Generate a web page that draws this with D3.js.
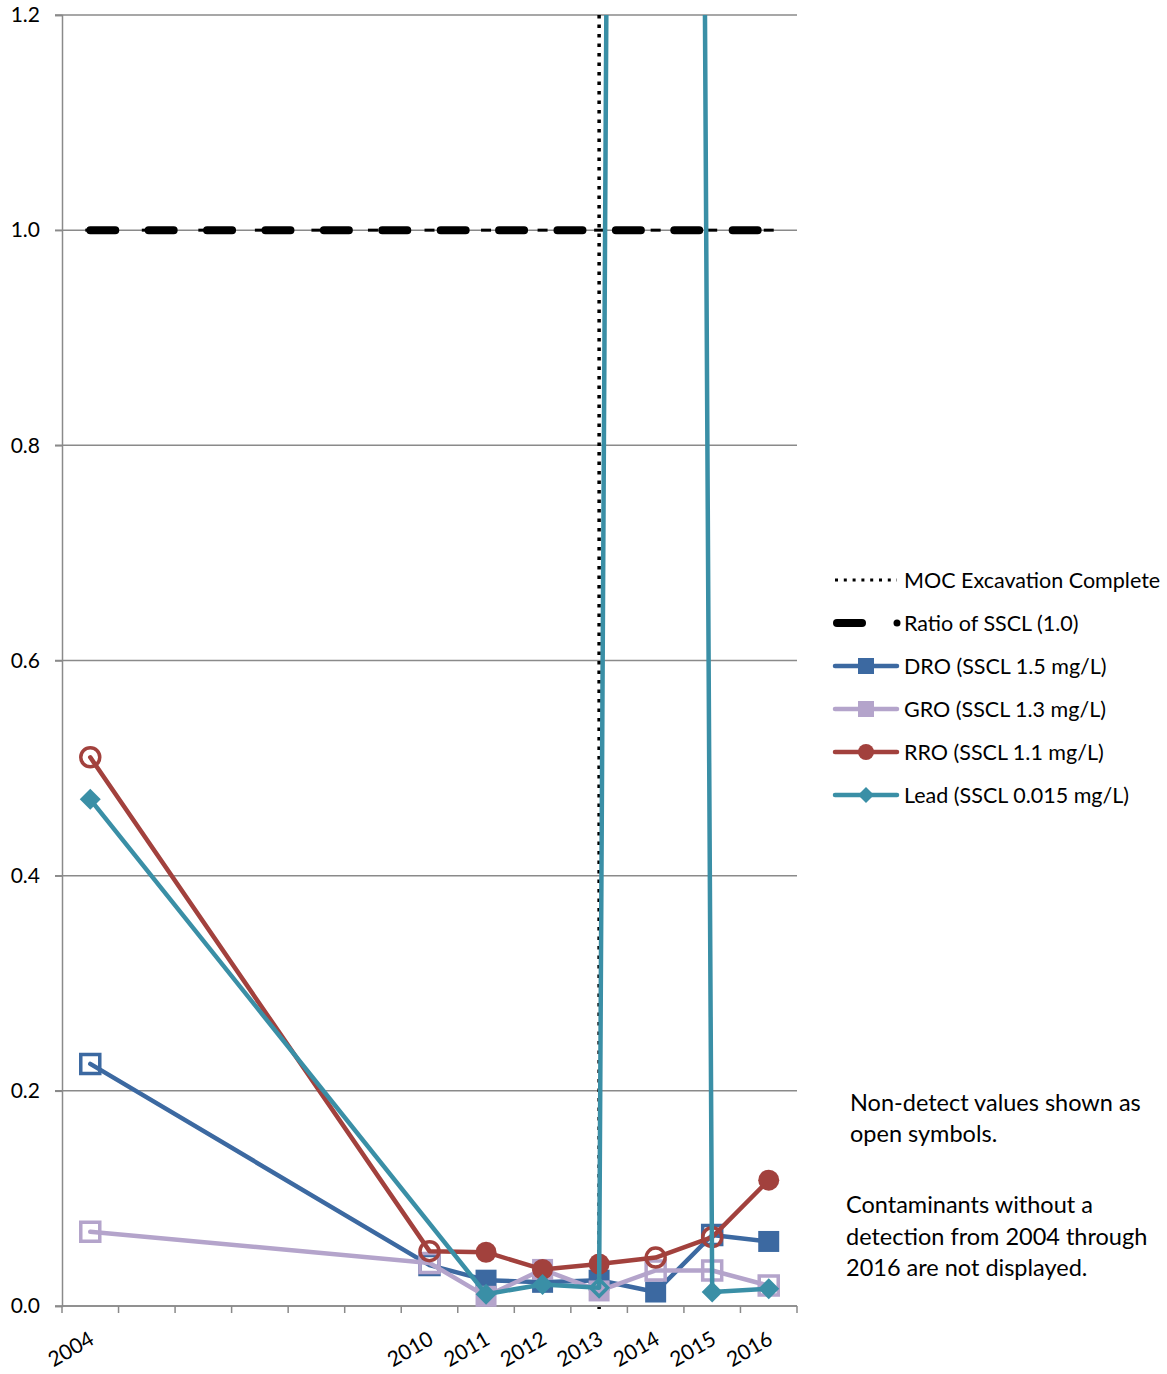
<!DOCTYPE html>
<html>
<head>
<meta charset="utf-8">
<script src="https://cdn.jsdelivr.net/npm/d3@7"></script>
<style>
  html, body { margin: 0; padding: 0; background: #fff; }
  svg { display: block; font-family: Lato, "Open Sans", sans-serif; }
</style>
</head>
<body>
<svg id="chart" width="1167" height="1374"></svg>
<script>
// Sampling years (category axis); only years with samples get a label
const years = [2004, 2005, 2006, 2007, 2008, 2009, 2010, 2011, 2012, 2013, 2014, 2015, 2016];
const labelledYears = [2004, 2010, 2011, 2012, 2013, 2014, 2015, 2016];
const yTicks = [0, 0.2, 0.4, 0.6, 0.8, 1.0, 1.2];

// Concentration / SSCL ratios (null = not sampled)
const droValues  = [0.225, null, null, null, null, null, 0.038, 0.024, 0.022, 0.024, 0.013, 0.066, 0.060];
const groValues  = [0.069, null, null, null, null, null, 0.040, 0.009, 0.034, 0.014, 0.033, 0.033, 0.019];
const rroValues  = [0.510, null, null, null, null, null, 0.051, 0.050, 0.034, 0.039, 0.045, 0.064, 0.117];
const leadValues = [0.471, null, null, null, null, null, null, 0.011, 0.020, 0.017, 9.3, 0.013, 0.016];

// Non-detect flags (1 = non-detect, drawn as an open symbol)
const droND  = [1, 0, 0, 0, 0, 0, 1, 0, 0, 0, 0, 1, 0];
const groND  = [1, 0, 0, 0, 0, 0, 1, 0, 0, 0, 1, 1, 1];
const rroND  = [1, 0, 0, 0, 0, 0, 1, 0, 0, 0, 1, 1, 0];
const leadND = [0, 0, 0, 0, 0, 0, 0, 0, 0, 1, 0, 0, 0];

// Screening level reference (ratio of 1.0 at every year)
const ratioValues = years.map(() => 1.0);
const mocYear = 2013;

const seriesNames = ["DRO (SSCL 1.5 mg/L)", "GRO (SSCL 1.3 mg/L)", "RRO (SSCL 1.1 mg/L)", "Lead (SSCL 0.015 mg/L)"];
const seriesColors = ["#3c69a1", "#b4a4cb", "#a2413d", "#3a8fa6"];
const seriesShapes = ["square", "square", "circle", "diamond"];

const svg = d3.select("#chart");
const plot = { left: 62, right: 797, top: 15, bottom: 1306 };

const x = d3.scaleBand().domain(years).range([plot.left, plot.right]).paddingInner(0).paddingOuter(0);
const xc = yr => x(yr) + x.bandwidth() / 2;
const y = d3.scaleLinear().domain([0, 1.2]).range([plot.bottom, plot.top]);

const gridColor = "#8a8a8a";

// Horizontal gridlines
svg.append("g").selectAll("line").data(yTicks).join("line")
  .attr("x1", plot.left - 7).attr("x2", plot.right)
  .attr("y1", d => y(d)).attr("y2", d => y(d))
  .attr("stroke", gridColor).attr("stroke-width", 1.5);

// Y axis
const yAxis = d3.axisLeft(y).tickValues(yTicks).tickFormat(d3.format(".1f")).tickSize(7).tickPadding(15);
const gy = svg.append("g").attr("transform", `translate(${plot.left},0)`).call(yAxis);
gy.select(".domain").attr("stroke", gridColor).attr("stroke-width", 1.5);
gy.selectAll(".tick line").attr("stroke", gridColor).attr("stroke-width", 1.5);
gy.selectAll(".tick text").attr("font-size", 21).attr("font-family", "Lato, sans-serif").attr("fill", "#000");

// X axis: ticks at category boundaries
const boundaries = years.map(yr => x(yr)).concat([plot.right]);
const gx = svg.append("g");
gx.append("line").attr("x1", plot.left).attr("x2", plot.right)
  .attr("y1", plot.bottom).attr("y2", plot.bottom)
  .attr("stroke", gridColor).attr("stroke-width", 1.5);
gx.selectAll("line.tk").data(boundaries).join("line").attr("class", "tk")
  .attr("x1", d => d).attr("x2", d => d)
  .attr("y1", plot.bottom).attr("y2", plot.bottom + 7)
  .attr("stroke", gridColor).attr("stroke-width", 1.5);
gx.selectAll("text").data(labelledYears).join("text")
  .attr("transform", d => `translate(${xc(d) - 20},${plot.bottom + 42}) rotate(-30)`)
  .attr("text-anchor", "middle").attr("dominant-baseline", "central")
  .attr("font-size", 21).attr("fill", "#000").text(d => d);

// Clip region for data marks
svg.append("clipPath").attr("id", "plotClip").append("rect")
  .attr("x", plot.left - 30).attr("y", plot.top)
  .attr("width", plot.right - plot.left + 60).attr("height", plot.bottom - plot.top + 30);

const marks = svg.append("g").attr("clip-path", "url(#plotClip)");

// MOC excavation complete (dotted vertical)
marks.append("line")
  .attr("x1", xc(mocYear)).attr("x2", xc(mocYear))
  .attr("y1", y(1.2)).attr("y2", y(0) + 3)
  .attr("stroke", "#000").attr("stroke-width", 3.5).attr("stroke-dasharray", "3.5 6");

// Ratio of SSCL (1.0): small dash markers at each year under a long-dash line
marks.append("g").selectAll("rect").data(years).join("rect")
  .attr("x", d => xc(d) - 5).attr("y", (d, i) => y(ratioValues[i]) - 1.5)
  .attr("width", 10).attr("height", 3).attr("fill", "#000");
const ratioLine = d3.line().x((d, i) => xc(years[i])).y(d => y(d));
marks.append("path").attr("d", ratioLine(ratioValues))
  .attr("fill", "none").attr("stroke", "#000").attr("stroke-width", 8)
  .attr("stroke-linecap", "round").attr("stroke-dasharray", "25 33.4");

function markerPath(shape, size) {
  const h = size / 2;
  if (shape === "square") return `M${-h},${-h}H${h}V${h}H${-h}Z`;
  if (shape === "diamond") return `M0,${-h}L${h},0L0,${h}L${-h},0Z`;
  return d3.symbol(d3.symbolCircle, Math.PI * h * h)();
}

const allValues = [droValues, groValues, rroValues, leadValues];
const allND = [droND, groND, rroND, leadND];

allValues.forEach((vals, s) => {
  const pts = years.map((yr, i) => ({ yr, v: vals[i], nd: allND[s][i] })).filter(p => p.v !== null);
  const g = marks.append("g");
  const line = d3.line().x(p => xc(p.yr)).y(p => y(p.v));
  g.append("path").attr("d", line(pts))
    .attr("fill", "none").attr("stroke", seriesColors[s]).attr("stroke-width", 4.5)
    .attr("stroke-linejoin", "round").attr("stroke-linecap", "round");
  const shape = seriesShapes[s];
  g.selectAll("path.m").data(pts.filter(p => p.v <= 1.2)).join("path").attr("class", "m")
    .attr("transform", p => `translate(${xc(p.yr)},${y(p.v)})`)
    .attr("d", p => p.nd ? markerPath(shape, shape === "diamond" ? 17 : 19) : markerPath(shape, 21))
    .attr("fill", p => p.nd ? "none" : seriesColors[s])
    .attr("stroke", p => p.nd ? seriesColors[s] : "none")
    .attr("stroke-width", 3.5);
});

// Legend
const legend = svg.append("g");
const lx0 = 835, lx1 = 897, tx = 904;
const legendY = [580, 623, 666, 709, 752, 795];
const legendText = ["MOC Excavation Complete", "Ratio of SSCL (1.0)"].concat(seriesNames);

legend.append("line").attr("x1", lx0).attr("x2", lx1).attr("y1", legendY[0]).attr("y2", legendY[0])
  .attr("stroke", "#000").attr("stroke-width", 3).attr("stroke-dasharray", "3 5.8");
legend.append("line").attr("x1", 837).attr("x2", 862).attr("y1", legendY[1]).attr("y2", legendY[1])
  .attr("stroke", "#000").attr("stroke-width", 8).attr("stroke-linecap", "round");
legend.append("circle").attr("cx", 897).attr("cy", legendY[1]).attr("r", 3.5).attr("fill", "#000");

seriesNames.forEach((n, s) => {
  const ly = legendY[s + 2];
  legend.append("line").attr("x1", lx0).attr("x2", lx1).attr("y1", ly).attr("y2", ly)
    .attr("stroke", seriesColors[s]).attr("stroke-width", 4.5).attr("stroke-linecap", "round");
  legend.append("path").attr("transform", `translate(${(lx0 + lx1) / 2},${ly})`)
    .attr("d", markerPath(seriesShapes[s], 16)).attr("fill", seriesColors[s]);
});

legend.selectAll("text").data(legendText).join("text")
  .attr("x", tx).attr("y", (d, i) => legendY[i]).attr("dominant-baseline", "central")
  .attr("font-size", 21.5).attr("fill", "#000").text(d => d);

// Notes
const notes = [
  { x: 850, y: 1102, t: "Non-detect values shown as" },
  { x: 850, y: 1133, t: "open symbols." },
  { x: 846, y: 1204, t: "Contaminants without a" },
  { x: 846, y: 1236, t: "detection from 2004 through" },
  { x: 846, y: 1267, t: "2016 are not displayed." }
];
svg.append("g").selectAll("text").data(notes).join("text")
  .attr("x", d => d.x).attr("y", d => d.y).attr("dominant-baseline", "central")
  .attr("font-size", 23.5).attr("fill", "#000").text(d => d.t);
</script>
</body>
</html>
